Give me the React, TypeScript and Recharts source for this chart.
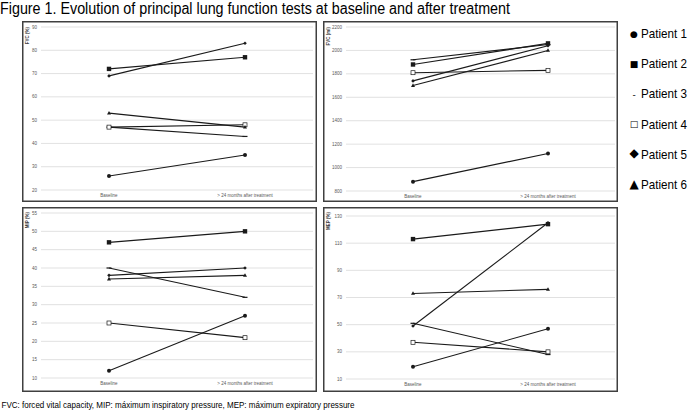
import { LineChart, Line, XAxis, YAxis, CartesianGrid } from "recharts";

const stages = ["Baseline", "> 24 months after treatment"];
const patients = ["Patient 1", "Patient 2", "Patient 3", "Patient 4", "Patient 5", "Patient 6"];
const markerKinds = ["circle", "square", "dash", "open", "diamond", "triangle"];
const legendGlyphs = ["●", "■", "-", "□", "◆", "▲"];

const fvcPctBase = [26, 72, 47, 47, 69, 53];
const fvcPctAfter = [35, 77, 43, 48, 83, 47];
const fvcPctTicks = [20, 30, 40, 50, 60, 70, 80, 90];

const fvcMlBase = [880, 1880, 1920, 1810, 1740, 1700];
const fvcMlAfter = [1120, 2060, 2050, 1830, 2040, 2000];
const fvcMlTicks = [800, 1000, 1200, 1400, 1600, 1800, 2000, 2200];

const mipBase = [12, 47, 40, 25, 38, 37];
const mipAfter = [27, 50, 32, 21, 40, 38];
const mipTicks = [10, 15, 20, 25, 30, 35, 40, 45, 50, 55];

const mepBase = [19, 113, 51, 37, 49, 73];
const mepAfter = [47, 124, 28, 30, 125, 76];
const mepTicks = [10, 30, 50, 70, 90, 110, 130];

const font = "'Liberation Sans Narrow', 'Liberation Sans', Arial, sans-serif";
const ink = "#1a1a1a";

function buildRows(base: number[], after: number[]) {
  return [base, after].map((vals, i) => {
    const row: any = { stage: stages[i] };
    vals.forEach((v, p) => (row["p" + p] = v));
    return row;
  });
}

function makeDot(kind: string) {
  return (props: any) => {
    const { cx, cy, index } = props;
    const key = `${kind}-${index}`;
    if (cx == null || cy == null) return <g key={key} />;
    switch (kind) {
      case "circle":
        return <circle key={key} cx={cx} cy={cy} r={2} fill={ink} />;
      case "square":
        return <rect key={key} x={cx - 2.2} y={cy - 2.2} width={4.4} height={4.4} fill={ink} />;
      case "open":
        return (
          <rect key={key} x={cx - 2} y={cy - 2} width={4} height={4} fill="#fff" stroke={ink} strokeWidth={0.7} />
        );
      case "diamond":
        return (
          <path key={key} d={`M${cx},${cy - 1.8}L${cx + 1.8},${cy}L${cx},${cy + 1.8}L${cx - 1.8},${cy}Z`} fill={ink} />
        );
      case "triangle":
        return (
          <path key={key} d={`M${cx},${cy - 2.2}L${cx + 2},${cy + 1.4}L${cx - 2},${cy + 1.4}Z`} fill={ink} />
        );
      default:
        return <rect key={key} x={cx - 2.5} y={cy - 0.6} width={5} height={1.2} fill={ink} />;
    }
  };
}

type PanelProps = {
  left: number;
  top: number;
  height: number;
  base: number[];
  after: number[];
  ticks: number[];
  yWidth: number;
  marginTop: number;
  marginRight: number;
  xHeight: number;
  pad: number;
};

function Panel(p: PanelProps) {
  const data = buildRows(p.base, p.after);
  const tickStyle = { fontSize: 4.5, fill: "#595959", fontFamily: font };
  return (
    <div
      style={{
        position: "absolute",
        left: p.left,
        top: p.top,
        width: 295,
        height: p.height,
        boxShadow: "inset 0 0 0 1.5px #404040",
        background: "#fff",
      }}
    >
      <LineChart width={295} height={p.height} data={data} margin={{ top: p.marginTop, right: p.marginRight, bottom: 0, left: 0 }}>
        <CartesianGrid vertical={false} stroke="#d9d9d9" strokeWidth={0.8} />
        <XAxis
          dataKey="stage"
          axisLine={false}
          tickLine={false}
          tickSize={0}
          tickMargin={4}
          height={p.xHeight}
          padding={{ left: p.pad, right: p.pad }}
          tick={tickStyle}
          interval={0}
        />
        <YAxis
          type="number"
          domain={[p.ticks[0], p.ticks[p.ticks.length - 1]]}
          ticks={p.ticks}
          interval={0}
          axisLine={false}
          tickLine={false}
          tickSize={0}
          tickMargin={4}
          width={p.yWidth}
          tick={tickStyle}
        />
        {patients.map((name, i) => (
          <Line
            key={name}
            name={name}
            dataKey={"p" + i}
            stroke={ink}
            strokeWidth={1.1}
            dot={makeDot(markerKinds[i])}
            activeDot={false}
            isAnimationActive={false}
          />
        ))}
      </LineChart>
    </div>
  );
}

const axisTitles = [
  { text: "FVC (%)", x: 29, y: 27 },
  { text: "FVC (ml)", x: 330, y: 27 },
  { text: "MIP (%)", x: 29, y: 212 },
  { text: "MEP (%)", x: 330, y: 212 },
];

export default function App() {
  return (
    <div style={{ position: "relative", width: 694, height: 410, background: "#fff", overflow: "hidden" }}>
      <style>{`body{margin:0}`}</style>
      <Panel left={22} top={21} height={181} base={fvcPctBase} after={fvcPctAfter} ticks={fvcPctTicks}
        yWidth={19} marginTop={6} marginRight={4} xHeight={12} pad={68} />
      <Panel left={323} top={21} height={181} base={fvcMlBase} after={fvcMlAfter} ticks={fvcMlTicks}
        yWidth={23} marginTop={6} marginRight={3} xHeight={11} pad={67} />
      <Panel left={22} top={207} height={185} base={mipBase} after={mipAfter} ticks={mipTicks}
        yWidth={19} marginTop={6} marginRight={4} xHeight={14} pad={68} />
      <Panel left={323} top={207} height={185} base={mepBase} after={mepAfter} ticks={mepTicks}
        yWidth={23} marginTop={9} marginRight={3} xHeight={13} pad={67} />
      <svg width={694} height={410} style={{ position: "absolute", left: 0, top: 0, pointerEvents: "none" }}>
        <text x={0} y={14} fontSize={16} fontFamily={font} fill="#000" textLength={510} lengthAdjust="spacingAndGlyphs">
          Figure 1. Evolution of principal lung function tests at baseline and after treatment
        </text>
        {axisTitles.map((t) => (
          <text key={t.text} transform={`translate(${t.x},${t.y}) rotate(-90)`} textAnchor="end" fontSize={4.5}
            fontWeight="bold" fill="#404040" fontFamily={font}>
            {t.text}
          </text>
        ))}
        {patients.map((name, i) => {
          const cy = 33 + i * 30.2;
          return (
            <g key={name}>
              <text x={634} y={cy + (i === 2 ? 5 : 3.5)} textAnchor="middle" fontSize={i < 4 ? 9 : 12}
                fill="#000" fontFamily="'DejaVu Sans', sans-serif">
                {legendGlyphs[i]}
              </text>
              <text x={641} y={cy + 5} fontSize={13.2} fontFamily={font} fill="#000" textLength={46}
                lengthAdjust="spacingAndGlyphs">
                {name}
              </text>
            </g>
          );
        })}
        <text x={1.5} y={408} fontSize={9} fontFamily={font} fill="#000" textLength={353} lengthAdjust="spacingAndGlyphs">
          FVC: forced vital capacity, MIP: máximum inspiratory pressure, MEP: máximum expiratory pressure
        </text>
      </svg>
    </div>
  );
}
